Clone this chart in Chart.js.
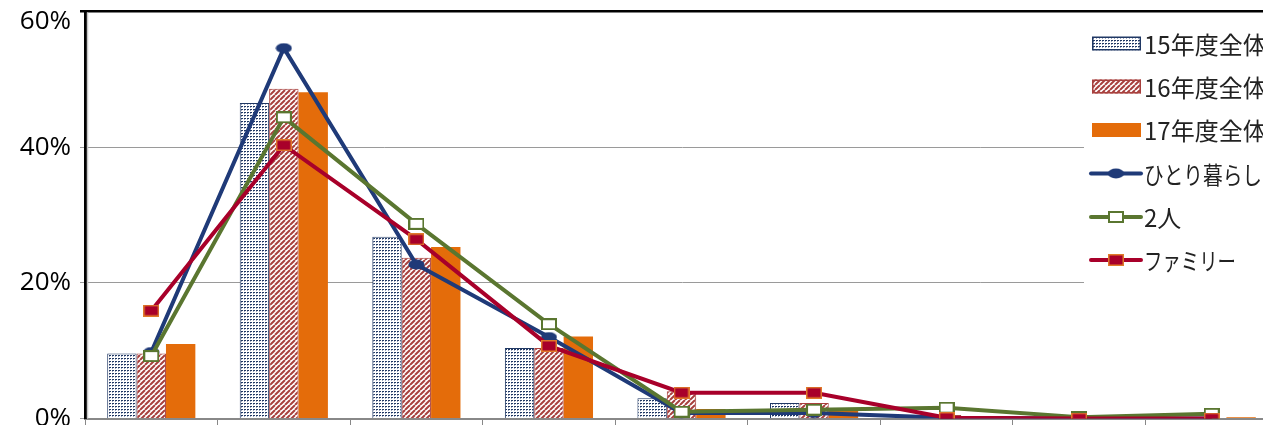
<!DOCTYPE html>
<html>
<head>
<meta charset="utf-8">
<script src="https://cdn.jsdelivr.net/npm/chart.js@4.4.1/dist/chart.umd.min.js"></script>
<style>
html,body{margin:0;padding:0;overflow:hidden;background:#fff;width:1263px;height:425px}
#wrap{position:relative;width:1290px;height:425px}
canvas{display:block}
</style>
</head>
<body>
<div id="wrap"><canvas id="c" width="1290" height="425"></canvas></div>
<script>
// ---- data ----
const categories = ['1', '2', '3', '4', '5', '6', '7', '8', '9'];
const yTickValues = [0, 20, 40, 60];
const seriesNames = ['15年度全体', '16年度全体', '17年度全体', 'ひとり暮らし', '2人', 'ファミリー'];
const fy15All = [9.6, 46.5, 26.8, 10.4, 3.0, 2.3, 0, 0, 0];
const fy16All = [9.6, 48.6, 23.7, 10.4, 4.0, 2.3, 0.5, 0, 0];
const fy17All = [11.0, 48.1, 25.3, 12.1, 1.4, 1.4, 0.3, 0, 0.2];
const single = [9.8, 54.6, 22.7, 12.0, 0.8, 0.8, 0.1, 0, 0];
const couple = [9.2, 44.4, 28.7, 13.9, 1.0, 1.3, 1.6, 0.2, 0.7];
const family = [15.9, 40.3, 26.4, 10.7, 3.8, 3.8, 0.1, 0, 0];

// ---- styles ----
const navy = '#1F3A78';
const dotNavy = '#203864';
const stripeRed = '#A8403E';
const orange = '#E46C0A';
const green = '#5A7630';
const crimson = '#A8002A';

const mainCanvas = document.getElementById('c');
const mctx = mainCanvas.getContext('2d');

function tile(w, h, draw) {
  const c = document.createElement('canvas');
  c.width = w; c.height = h;
  draw(c.getContext('2d'), w, h);
  return c;
}
const dotTile = tile(3, 3, (g) => {
  g.fillStyle = '#fff'; g.fillRect(0, 0, 3, 3);
  g.fillStyle = '#9AA3BC'; g.fillRect(1, 2, 1, 1);
  g.fillStyle = dotNavy; g.fillRect(1, 1, 2, 1);
});
const stripeTile = tile(5, 5, (g, s) => {
  g.fillStyle = '#fff'; g.fillRect(0, 0, s, s);
  g.strokeStyle = stripeRed; g.lineWidth = 2.0;
  g.beginPath();
  for (const k of [-s, 0, s]) { g.moveTo(k, s); g.lineTo(k + s, 0); }
  g.stroke();
});
const dotPattern = mctx.createPattern(dotTile, 'repeat');
const stripePattern = mctx.createPattern(stripeTile, 'repeat');

const markerBlue = tile(17, 11, (g, w, h) => {
  g.fillStyle = navy; g.beginPath();
  g.ellipse(w / 2, h / 2, w / 2 - 0.5, h / 2 - 0.5, 0, 0, Math.PI * 2); g.fill();
});
const markerGreen = tile(16, 12, (g, w, h) => {
  g.fillStyle = '#fff'; g.fillRect(1, 1, w - 2, h - 2);
  g.strokeStyle = green; g.lineWidth = 2; g.strokeRect(1, 1, w - 2, h - 2);
});
const markerRed = tile(16, 12, (g, w, h) => {
  g.fillStyle = crimson; g.fillRect(0, 0, w, h);
  g.strokeStyle = '#E07A2A'; g.lineWidth = 1.5; g.strokeRect(0.75, 0.75, w - 1.5, h - 1.5);
});

const barCommon = { type: 'bar', categoryPercentage: 0.665, barPercentage: 1.0 };
const lineCommon = { type: 'line', borderWidth: 4, tension: 0, pointRadius: 8, pointHoverRadius: 8, fill: false,
  clip: { left: false, top: false, right: false, bottom: 0 } };

const datasets = [
  Object.assign({ label: seriesNames[0], data: fy15All, backgroundColor: dotPattern, borderColor: dotNavy, borderWidth: 1, order: 4 }, barCommon),
  Object.assign({ label: seriesNames[1], data: fy16All, backgroundColor: stripePattern, borderColor: stripeRed, borderWidth: 1, order: 5 }, barCommon),
  Object.assign({ label: seriesNames[2], data: fy17All, backgroundColor: orange, borderWidth: 0, order: 6 }, barCommon),
  Object.assign({ label: seriesNames[3], data: single, borderColor: navy, backgroundColor: navy, pointStyle: markerBlue, order: 3 }, lineCommon),
  Object.assign({ label: seriesNames[4], data: couple, borderColor: green, backgroundColor: green, pointStyle: markerGreen, order: 2 }, lineCommon),
  Object.assign({ label: seriesNames[5], data: family, borderColor: crimson, backgroundColor: crimson, pointStyle: markerRed, order: 1 }, lineCommon)
];

const swatchInfo = [
  { kind: 'bar', fill: dotPattern, stroke: dotNavy },
  { kind: 'bar', fill: stripePattern, stroke: stripeRed },
  { kind: 'bar', fill: orange, stroke: null },
  { kind: 'line', color: navy, marker: markerBlue },
  { kind: 'line', color: green, marker: markerGreen },
  { kind: 'line', color: crimson, marker: markerRed }
];

const axisExtras = {
  id: 'axisExtras',
  beforeDatasetsDraw(chart) {
    const { ctx, chartArea } = chart;
    ctx.save();
    ctx.strokeStyle = '#C8C8C8';
    ctx.lineWidth = 1.5;
    ctx.beginPath();
    ctx.moveTo(chartArea.left + 2.5, chartArea.top + 1);
    ctx.lineTo(chartArea.left + 2.5, chartArea.bottom);
    ctx.stroke();
    ctx.restore();
  }
};

const customLegend = {
  id: 'customLegend',
  afterDraw(chart) {
    const ctx = chart.ctx;
    ctx.save();
    ctx.fillStyle = '#fff';
    ctx.fillRect(1084, 15, 220, 282);
    const rowY = [43.5, 86.5, 130, 173.5, 217, 260];
    const maxW = [null, null, null, 118, null, 92];
    chart.data.datasets.forEach((ds, i) => {
      const y = rowY[i];
      const s = swatchInfo[i];
      if (s.kind === 'bar') {
        ctx.fillStyle = s.fill;
        ctx.fillRect(1092, y - 7, 49, 14);
        if (s.stroke) {
          ctx.strokeStyle = s.stroke; ctx.lineWidth = 1.5;
          ctx.strokeRect(1092.75, y - 6.25, 47.5, 12.5);
        }
      } else {
        ctx.strokeStyle = s.color; ctx.lineWidth = 4; ctx.lineCap = 'round';
        ctx.beginPath(); ctx.moveTo(1091, y); ctx.lineTo(1141, y); ctx.stroke();
        ctx.drawImage(s.marker, 1116 - s.marker.width / 2, y - s.marker.height / 2);
      }
      ctx.fillStyle = '#222';
      ctx.font = '24px "Noto Sans CJK JP"';
      ctx.textBaseline = 'middle';
      ctx.textAlign = 'left';
      if (maxW[i]) ctx.fillText(ds.label, 1144, y + 1, maxW[i]);
      else ctx.fillText(ds.label, 1144, y + 1);
    });
    ctx.restore();
  }
};

new Chart(mainCanvas, {
  type: 'bar',
  data: { labels: categories, datasets: datasets },
  options: {
    responsive: false,
    animation: false,
    devicePixelRatio: 1,
    layout: { autoPadding: false, padding: { top: 11.5, right: 12, left: 0, bottom: 0 } },
    plugins: { legend: { display: false }, tooltip: { enabled: false } },
    events: [],
    scales: {
      x: {
        offset: true,
        ticks: { display: false },
        grid: { offset: true, drawOnChartArea: false, drawTicks: true, tickLength: 8, color: '#888', lineWidth: 1 },
        border: { display: true, color: '#888', width: 2 },
        afterFit: (scale) => { scale.height = 6.5; scale.paddingLeft = 0; scale.paddingRight = 0; }
      },
      y: {
        min: 0, max: 60,
        afterBuildTicks: (scale) => { scale.ticks = yTickValues.map(v => ({ value: v })); },
        ticks: {
          color: '#000',
          padding: 9,
          font: { family: 'Open Sans', size: 26, lineHeight: 0.77 },
          callback: (v) => v === 60 ? ['', v + '%'] : v + '%'
        },
        grid: {
          color: (c) => c.tick && c.tick.value === 60 ? '#000' : '#9A9A9A',
          lineWidth: (c) => c.tick && c.tick.value === 60 ? 2.5 : 1,
          tickLength: 5
        },
        border: { display: true, color: '#000', width: 3 },
        afterFit: (scale) => { scale.width = 85; scale.paddingTop = 0; scale.paddingBottom = 0; }
      }
    }
  },
  plugins: [axisExtras, customLegend]
});
</script>
</body>
</html>
